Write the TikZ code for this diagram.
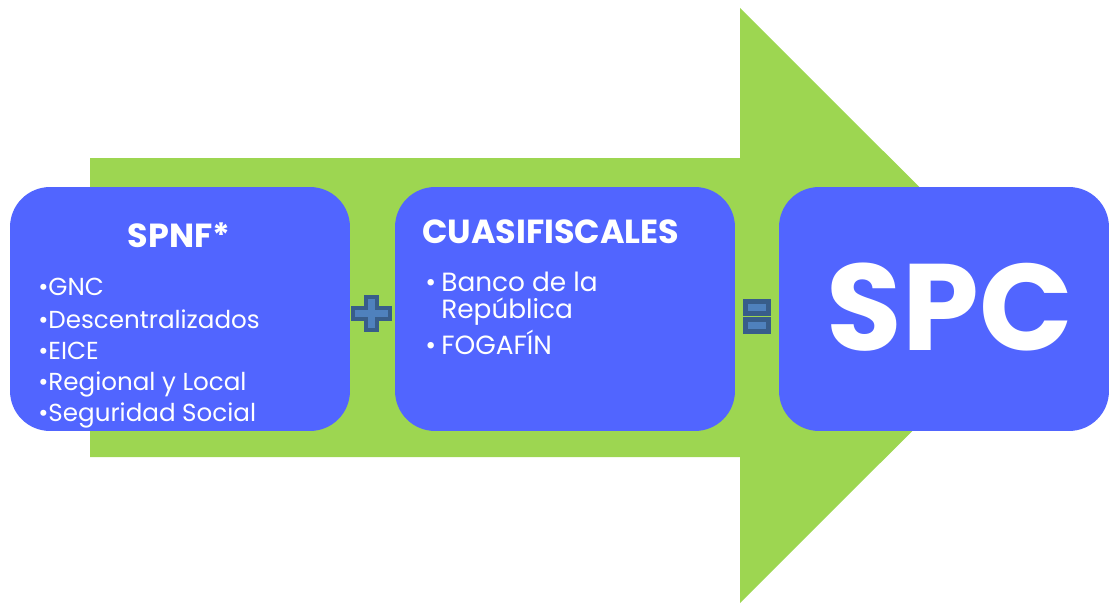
\documentclass[tikz,border=0pt]{standalone}
\usepackage{fontspec}
\setmainfont{Poppins}
\usetikzlibrary{positioning}
\definecolor{arrowgreen}{RGB}{157,214,81}
\definecolor{boxblue}{RGB}{81,101,255}
\definecolor{opfill}{RGB}{79,129,189}
\definecolor{opline}{RGB}{56,93,138}

\begin{document}
\begin{tikzpicture}[x=0.02cm, y=0.02cm,
  box/.style={fill=boxblue, rounded corners=0.8cm, minimum height=4.88cm, inner sep=0pt},
  ttl/.style={text=white, inner sep=0pt, anchor=base, font=\bfseries\fontsize{19}{23}\selectfont},
  itm/.style={text=white, inner sep=0pt, anchor=base west, font=\fontsize{14}{17}\selectfont},
  itmb/.style={text=white, inner sep=0pt, anchor=base west, font=\fontsize{15}{18}\selectfont},
  op/.style={fill=opfill, draw=opline}]
  \useasboundingbox (0,0) rectangle (1109,603);

  % big arrow behind the boxes
  \fill[arrowgreen] (90,146) -- (740,146) -- (740,0) -- (1038,297.5) -- (740,595) -- (740,445) -- (90,445) -- cycle;

  \node[box, minimum width=6.8cm] (spnf) at (180,294) {};
  \node[box, minimum width=6.8cm] (cuasi) at (565,294) {};
  \node[box, minimum width=6.6cm] (spc) at (944,294) {};

  \node[ttl] (spnft) at (179,356) {SPNF*};
  \node[itm] (gnc) at (38,308) {•GNC};
  \node[itm] (desc) at (38,275) {•Descentralizados};
  \node[itm] (eice) at (38,244) {•EICE};
  \node[itm] (reg) at (38,213) {•Regional y Local};
  \node[itm] (seg) at (38,182) {•Seguridad Social};

  \node[ttl, anchor=base west] (cuasit) at (422,360) {CUASIFISCALES};
  \node[itmb] (banb) at (425,312) {•};
  \node[itmb] (ban) at (441,312) {Banco de la};
  \node[itmb] (rep) at (441,285) {República};
  \node[itmb] (fogb) at (425,249) {•};
  \node[itmb] (fog) at (441,249) {FOGAFÍN};

  \node[text=white, inner sep=0pt, anchor=base, font=\bfseries\fontsize{70}{74}\selectfont] (spct) at (950,253) {SPC};

  % plus and equal signs
  \filldraw[op, line width=0.08cm] (353,284) -- (366,284) -- (366,273) -- (377,273) -- (377,284) -- (390,284)
    -- (390,295) -- (377,295) -- (377,306) -- (366,306) -- (366,295) -- (353,295) -- cycle;
  \filldraw[op, line width=0.1cm] (745.5,289.5) rectangle (768.5,301.5);
  \filldraw[op, line width=0.1cm] (745.5,271.5) rectangle (768.5,283.5);
\end{tikzpicture}
\end{document}
